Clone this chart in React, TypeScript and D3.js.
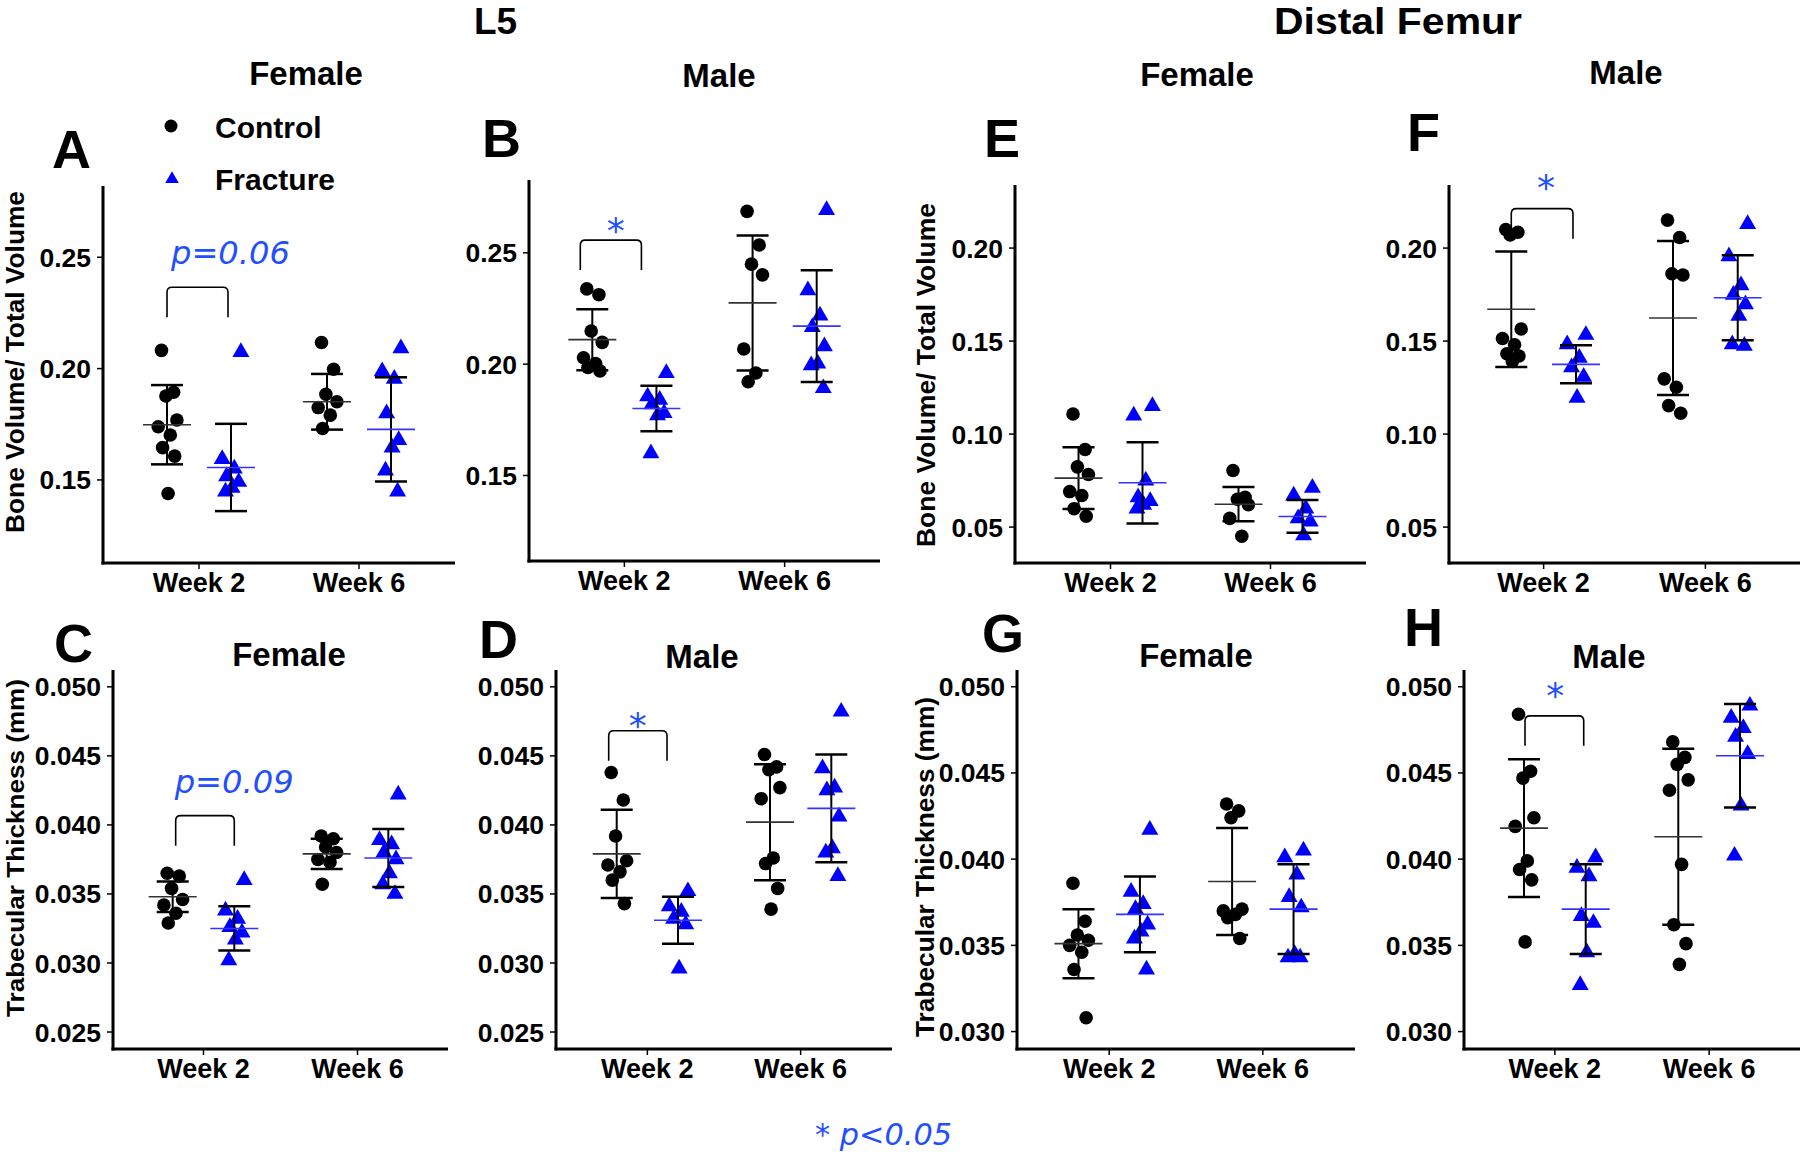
import React from "react";
import * as d3 from "d3";

// ---------- categories ----------
const WEEKS = ["Week 2", "Week 6"];
const GROUPS = ["Control", "Fracture"];

// ---------- tick values ----------
const TICKS_L5_BVTV = [0.15, 0.2, 0.25];
const TICKS_FEMUR_BVTV = [0.05, 0.1, 0.15, 0.2];
const TICKS_L5_TBTH = [0.025, 0.03, 0.035, 0.04, 0.045, 0.05];
const TICKS_FEMUR_TBTH = [0.03, 0.035, 0.04, 0.045, 0.05];

// ---------- A: L5 BV/TV, Female ----------
const A_CONTROL = [
  [0.2082, 0.1894, 0.1877, 0.1769, 0.1739, 0.1702, 0.1645, 0.1607, 0.1439],
  [0.2117, 0.1997, 0.1885, 0.1851, 0.1825, 0.1791, 0.1731],
];
const A_FRACTURE = [
  [0.2074, 0.1594, 0.1551, 0.1516, 0.1491, 0.1465, 0.1448],
  [0.2091, 0.1988, 0.1954, 0.1799, 0.1679, 0.1645, 0.1542, 0.1448],
];
const A_CONTROL_MEAN = [0.1748, 0.1851];
const A_CONTROL_SD = [0.0178, 0.0125];
const A_FRACTURE_MEAN = [0.1556, 0.1727];
const A_FRACTURE_SD = [0.0196, 0.0234];

// ---------- B: L5 BV/TV, Male ----------
const B_CONTROL = [
  [0.2338, 0.2312, 0.2149, 0.2098, 0.2029, 0.2003, 0.1985, 0.1969],
  [0.2686, 0.2535, 0.2449, 0.2401, 0.2068, 0.196, 0.1921],
];
const B_FRACTURE = [
  [0.196, 0.1855, 0.184, 0.182, 0.178, 0.177, 0.16],
  [0.2692, 0.2332, 0.2218, 0.2166, 0.208, 0.2003, 0.1995, 0.1892],
];
const B_CONTROL_MEAN = [0.211, 0.2275];
const B_CONTROL_SD = [0.0137, 0.0303];
const B_FRACTURE_MEAN = [0.1801, 0.2171];
const B_FRACTURE_SD = [0.0102, 0.0251];

// ---------- C: L5 Tb.Th, Female ----------
const C_CONTROL = [
  [0.0365, 0.0363, 0.0354, 0.0346, 0.0342, 0.0336, 0.0329],
  [0.0392, 0.039, 0.0384, 0.038, 0.0375, 0.0373, 0.0357],
];
const C_FRACTURE = [
  [0.036, 0.0338, 0.0332, 0.0326, 0.0322, 0.0317, 0.0302],
  [0.0422, 0.0389, 0.0386, 0.038, 0.0375, 0.0365, 0.0357, 0.035],
];
const C_CONTROL_MEAN = [0.0348, 0.0379];
const C_CONTROL_SD = [0.0011, 0.0011];
const C_FRACTURE_MEAN = [0.0325, 0.0376];
const C_FRACTURE_SD = [0.0016, 0.0021];

// ---------- D: L5 Tb.Th, Male ----------
const D_CONTROL = [
  [0.0438, 0.0418, 0.0392, 0.0374, 0.0371, 0.0366, 0.036, 0.0343],
  [0.0451, 0.0442, 0.044, 0.0427, 0.0419, 0.0376, 0.0372, 0.0354, 0.0339],
];
const D_FRACTURE = [
  [0.0352, 0.0341, 0.0337, 0.0332, 0.0328, 0.0296],
  [0.0482, 0.0441, 0.0427, 0.0425, 0.0406, 0.0383, 0.038, 0.0363],
];
const D_CONTROL_MEAN = [0.0379, 0.0402];
const D_CONTROL_SD = [0.0032, 0.0042];
const D_FRACTURE_MEAN = [0.0331, 0.0412];
const D_FRACTURE_SD = [0.0017, 0.0039];

// ---------- E: Distal Femur BV/TV, Female ----------
const E_CONTROL = [
  [0.1108, 0.0917, 0.0824, 0.0783, 0.0691, 0.067, 0.0599, 0.0558],
  [0.0804, 0.066, 0.065, 0.062, 0.0547, 0.0451],
];
const E_FRACTURE = [
  [0.115, 0.11, 0.075, 0.066, 0.064, 0.062, 0.06],
  [0.0711, 0.067, 0.0599, 0.0547, 0.053, 0.0455],
];
const E_CONTROL_MEAN = [0.0763, 0.0623];
const E_CONTROL_SD = [0.0166, 0.0092];
const E_FRACTURE_MEAN = [0.0738, 0.0557];
const E_FRACTURE_SD = [0.0218, 0.0088];

// ---------- F: Distal Femur BV/TV, Male ----------
const F_CONTROL = [
  [0.21, 0.2085, 0.207, 0.1565, 0.1514, 0.148, 0.1432, 0.142, 0.1391],
  [0.215, 0.2057, 0.1862, 0.1855, 0.1297, 0.1252, 0.1153, 0.1112],
];
const F_FRACTURE = [
  [0.1533, 0.1482, 0.141, 0.1359, 0.1308, 0.1195],
  [0.2129, 0.1955, 0.18, 0.1749, 0.1698, 0.1636, 0.1482, 0.1475],
];
const F_CONTROL_MEAN = [0.1671, 0.1624];
const F_CONTROL_SD = [0.031, 0.0414];
const F_FRACTURE_MEAN = [0.1375, 0.1733];
const F_FRACTURE_SD = [0.0102, 0.0228];

// ---------- G: Distal Femur Tb.Th, Female ----------
const G_CONTROL = [
  [0.0386, 0.0364, 0.0356, 0.0353, 0.035, 0.0346, 0.0336, 0.0308],
  [0.0432, 0.0428, 0.0424, 0.0371, 0.037, 0.0368, 0.0366, 0.0354],
];
const G_FRACTURE = [
  [0.0417, 0.0381, 0.0374, 0.0371, 0.0362, 0.0358, 0.0354, 0.0336],
  [0.0405, 0.0401, 0.0391, 0.0378, 0.0372, 0.0345, 0.0343, 0.0343],
];
const G_CONTROL_MEAN = [0.0351, 0.0387];
const G_CONTROL_SD = [0.002, 0.0031];
const G_FRACTURE_MEAN = [0.0368, 0.0371];
const G_FRACTURE_SD = [0.0022, 0.0026];

// ---------- H: Distal Femur Tb.Th, Male ----------
const H_CONTROL = [
  [0.0484, 0.0451, 0.0447, 0.0424, 0.0419, 0.0399, 0.0394, 0.0388, 0.0352],
  [0.0468, 0.0459, 0.0455, 0.0446, 0.044, 0.0397, 0.0362, 0.0351, 0.0339],
];
const H_FRACTURE = [
  [0.0401, 0.0395, 0.039, 0.0367, 0.0363, 0.0346, 0.0327],
  [0.0489, 0.0482, 0.0476, 0.0471, 0.0461, 0.0431, 0.0402],
];
const H_CONTROL_MEAN = [0.0418, 0.0413];
const H_CONTROL_SD = [0.004, 0.0051];
const H_FRACTURE_MEAN = [0.0371, 0.046];
const H_FRACTURE_SD = [0.0026, 0.003];

// ---------- styling ----------
const BOLD = "'Liberation Sans', Arial, sans-serif";
const ITAL = "'DejaVu Sans', sans-serif";
const BLUE = "#0000ff";
const TEXT_BLUE = "#1f4fff";
const JITTER = [-0.5, 0.6, -0.1, 0.9, -0.8, 0.3, -0.4, 0.7, 0.1];

type Sig = { kind: "p" | "star"; text: string; top: number; dx: number; ldx: number; ldy: number };
type Cfg = {
  letter: string; title: string;
  left: number; right: number; top: number; bottom: number; pad: number;
  domain: [number, number]; ticks: number[]; fmt: string;
  control: number[][]; fracture: number[][];
  cMean: number[]; cSd: number[]; fMean: number[]; fSd: number[];
  titleX: number; titleY: number; letterX: number; letterY: number;
  ylabel?: { text: string; x: number; cy: number; len: number; size: number };
  sig?: Sig;
};

const BVTV = "Bone Volume/ Total Volume";
const TBTH = "Trabecular Thickness (mm)";

const PANELS: Cfg[] = [
  {
    letter: "A", title: "Female", left: 103, right: 455, top: 186, bottom: 563, pad: 0.6,
    domain: [0.1127, 0.282], ticks: TICKS_L5_BVTV, fmt: ".2f",
    control: A_CONTROL, fracture: A_FRACTURE, cMean: A_CONTROL_MEAN, cSd: A_CONTROL_SD, fMean: A_FRACTURE_MEAN, fSd: A_FRACTURE_SD,
    titleX: 306, titleY: 85, letterX: 52, letterY: 168,
    ylabel: { text: BVTV, x: 24, cy: 362, len: 342, size: 25 },
    sig: { kind: "p", text: "p=0.06", top: 0.2365, dx: 0, ldx: 4, ldy: -23 },
  },
  {
    letter: "B", title: "Male", left: 529, right: 880, top: 180, bottom: 561, pad: 0.595,
    domain: [0.1116, 0.2827], ticks: TICKS_L5_BVTV, fmt: ".2f",
    control: B_CONTROL, fracture: B_FRACTURE, cMean: B_CONTROL_MEAN, cSd: B_CONTROL_SD, fMean: B_FRACTURE_MEAN, fSd: B_FRACTURE_SD,
    titleX: 719, titleY: 87, letterX: 482, letterY: 157,
    sig: { kind: "star", text: "*", top: 0.2557, dx: -12, ldx: 5, ldy: -18 },
  },
  {
    letter: "E", title: "Female", left: 1015, right: 1366, top: 185, bottom: 563, pad: 0.597,
    domain: [0.0307, 0.2339], ticks: TICKS_FEMUR_BVTV, fmt: ".2f",
    control: E_CONTROL, fracture: E_FRACTURE, cMean: E_CONTROL_MEAN, cSd: E_CONTROL_SD, fMean: E_FRACTURE_MEAN, fSd: E_FRACTURE_SD,
    titleX: 1197, titleY: 86, letterX: 984, letterY: 157,
    ylabel: { text: BVTV, x: 935, cy: 375, len: 344, size: 26 },
  },
  {
    letter: "F", title: "Male", left: 1449, right: 1800, top: 185, bottom: 563, pad: 0.585,
    domain: [0.0307, 0.2339], ticks: TICKS_FEMUR_BVTV, fmt: ".2f",
    control: F_CONTROL, fracture: F_FRACTURE, cMean: F_CONTROL_MEAN, cSd: F_CONTROL_SD, fMean: F_FRACTURE_MEAN, fSd: F_FRACTURE_SD,
    titleX: 1626, titleY: 84, letterX: 1407, letterY: 151,
    sig: { kind: "star", text: "*", top: 0.2212, dx: 0, ldx: 4, ldy: -30 },
  },
  {
    letter: "C", title: "Female", left: 113, right: 448, top: 670, bottom: 1049, pad: 0.5875,
    domain: [0.02377, 0.05122], ticks: TICKS_L5_TBTH, fmt: ".3f",
    control: C_CONTROL, fracture: C_FRACTURE, cMean: C_CONTROL_MEAN, cSd: C_CONTROL_SD, fMean: C_FRACTURE_MEAN, fSd: C_FRACTURE_SD,
    titleX: 289, titleY: 666, letterX: 54, letterY: 662,
    ylabel: { text: TBTH, x: 24, cy: 848, len: 338, size: 24 },
    sig: { kind: "p", text: "p=0.09", top: 0.04067, dx: 3, ldx: -1, ldy: -23 },
  },
  {
    letter: "D", title: "Male", left: 556, right: 892, top: 670, bottom: 1049, pad: 0.596,
    domain: [0.02377, 0.05122], ticks: TICKS_L5_TBTH, fmt: ".3f",
    control: D_CONTROL, fracture: D_FRACTURE, cMean: D_CONTROL_MEAN, cSd: D_CONTROL_SD, fMean: D_FRACTURE_MEAN, fSd: D_FRACTURE_SD,
    titleX: 702, titleY: 668, letterX: 479, letterY: 658,
    sig: { kind: "star", text: "*", top: 0.04682, dx: -8, ldx: 0, ldy: -14 },
  },
  {
    letter: "G", title: "Female", left: 1017, right: 1355, top: 670, bottom: 1049, pad: 0.6,
    domain: [0.02899, 0.05097], ticks: TICKS_FEMUR_TBTH, fmt: ".3f",
    control: G_CONTROL, fracture: G_FRACTURE, cMean: G_CONTROL_MEAN, cSd: G_CONTROL_SD, fMean: G_FRACTURE_MEAN, fSd: G_FRACTURE_SD,
    titleX: 1196, titleY: 667, letterX: 982, letterY: 652,
    ylabel: { text: TBTH, x: 934, cy: 867, len: 340, size: 25 },
  },
  {
    letter: "H", title: "Male", left: 1464, right: 1800, top: 670, bottom: 1049, pad: 0.589,
    domain: [0.02899, 0.05097], ticks: TICKS_FEMUR_TBTH, fmt: ".3f",
    control: H_CONTROL, fracture: H_FRACTURE, cMean: H_CONTROL_MEAN, cSd: H_CONTROL_SD, fMean: H_FRACTURE_MEAN, fSd: H_FRACTURE_SD,
    titleX: 1609, titleY: 668, letterX: 1404, letterY: 646,
    sig: { kind: "star", text: "*", top: 0.04831, dx: 1, ldx: 1, ldy: -29 },
  },
];

const triPath = d3.symbol().type(d3.symbolTriangle).size(125)() as string;
const legendTri = d3.symbol().type(d3.symbolTriangle).size(80)() as string;

function ErrorBar({ cx, y, mean, sd, meanColor }: { cx: number; y: d3.ScaleLinear<number, number>; mean: number; sd: number; meanColor: string }) {
  const hi = y(mean + sd), lo = y(mean - sd), m = y(mean);
  return (
    <g>
      <line x1={cx} x2={cx} y1={hi} y2={lo} stroke="#000" strokeWidth={2} />
      <line x1={cx - 16} x2={cx + 16} y1={hi} y2={hi} stroke="#000" strokeWidth={2.5} />
      <line x1={cx - 16} x2={cx + 16} y1={lo} y2={lo} stroke="#000" strokeWidth={2.5} />
      <line x1={cx - 24} x2={cx + 24} y1={m} y2={m} stroke={meanColor} strokeWidth={1.6} />
    </g>
  );
}

function Panel({ cfg }: { cfg: Cfg }) {
  const x = d3.scalePoint<string>().domain(WEEKS).range([cfg.left, cfg.right]).padding(cfg.pad);
  const y = d3.scaleLinear().domain(cfg.domain).range([cfg.bottom, cfg.top]);
  const dodge = x.step() * 0.2;
  const gx = (wi: number, gi: number) => (x(WEEKS[wi]) as number) + (gi === 0 ? -dodge : dodge);
  const fmt = d3.format(cfg.fmt);

  let sigEl: React.ReactNode = null;
  if (cfg.sig) {
    const s = cfg.sig;
    const x1 = gx(0, 0) + s.dx;
    const x2 = gx(0, 1) + s.dx - 3;
    const t = y(s.top);
    const b = t + 30;
    const r = 5;
    const path = `M${x1},${b} L${x1},${t + r} Q${x1},${t} ${x1 + r},${t} L${x2 - r},${t} Q${x2},${t} ${x2},${t + r} L${x2},${b}`;
    sigEl = (
      <g>
        <path d={path} fill="none" stroke="#000" strokeWidth={1.6} />
        {s.kind === "p" ? (
          <text x={x1 + s.ldx} y={t + s.ldy} fontFamily={ITAL} fontStyle="italic" fontWeight={300} fontSize={32} fill={TEXT_BLUE}
            textLength={119} lengthAdjust="spacingAndGlyphs">{s.text}</text>
        ) : (
          <text x={(x1 + x2) / 2 + s.ldx} y={t + s.ldy + 21} textAnchor="middle" fontFamily={ITAL} fontSize={36} fill={TEXT_BLUE}>{s.text}</text>
        )}
      </g>
    );
  }

  return (
    <g>
      <text x={cfg.titleX} y={cfg.titleY} textAnchor="middle" fontFamily={BOLD} fontWeight="bold" fontSize={33}>{cfg.title}</text>
      <text x={cfg.letterX} y={cfg.letterY} fontFamily={BOLD} fontWeight="bold" fontSize={54}>{cfg.letter}</text>
      {cfg.ylabel && (
        <text transform={`translate(${cfg.ylabel.x},${cfg.ylabel.cy}) rotate(-90)`} textAnchor="middle" fontFamily={BOLD} fontWeight="bold"
          fontSize={cfg.ylabel.size} textLength={cfg.ylabel.len} lengthAdjust="spacingAndGlyphs">{cfg.ylabel.text}</text>
      )}
      {cfg.ticks.map((t) => (
        <g key={t}>
          <line x1={cfg.left - 6} x2={cfg.left} y1={y(t)} y2={y(t)} stroke="#000" strokeWidth={1.5} />
          <text x={cfg.left - 12} y={y(t)} dy="0.36em" textAnchor="end" fontFamily={BOLD} fontWeight="bold" fontSize={26.5}>{fmt(t)}</text>
        </g>
      ))}
      {WEEKS.map((w) => (
        <g key={w}>
          <line x1={x(w)} x2={x(w)} y1={cfg.bottom} y2={cfg.bottom + 6} stroke="#000" strokeWidth={1.5} />
          <text x={x(w)} y={cfg.bottom + 29} textAnchor="middle" fontFamily={BOLD} fontWeight="bold" fontSize={27}>{w}</text>
        </g>
      ))}
      <line x1={cfg.left} x2={cfg.left} y1={cfg.top} y2={cfg.bottom + 1.5} stroke="#000" strokeWidth={3} />
      <line x1={cfg.left - 1.5} x2={cfg.right} y1={cfg.bottom} y2={cfg.bottom} stroke="#000" strokeWidth={3} />
      {sigEl}
      {WEEKS.map((w, wi) => (
        <g key={w}>
          {cfg.control[wi].map((v, i) => (
            <circle key={"c" + i} cx={gx(wi, 0) + JITTER[i % JITTER.length] * 11} cy={y(v)} r={6.8} fill="#000" />
          ))}
          {cfg.fracture[wi].map((v, i) => (
            <path key={"f" + i} d={triPath} transform={`translate(${gx(wi, 1) + JITTER[(i + 3) % JITTER.length] * 11},${y(v)})`} fill={BLUE} />
          ))}
        </g>
      ))}
      {WEEKS.map((w, wi) => (
        <g key={"e" + w}>
          <ErrorBar cx={gx(wi, 0)} y={y} mean={cfg.cMean[wi]} sd={cfg.cSd[wi]} meanColor="#333" />
          <ErrorBar cx={gx(wi, 1)} y={y} mean={cfg.fMean[wi]} sd={cfg.fSd[wi]} meanColor="#3333ff" />
        </g>
      ))}
    </g>
  );
}

export default function App() {
  return (
    <svg width={1800} height={1156} viewBox="0 0 1800 1156" style={{ position: "absolute", left: 0, top: 0, background: "#fff" }}>
      <rect width={1800} height={1156} fill="#fff" />
      <text x={474} y={34} fontFamily={BOLD} fontWeight="bold" fontSize={37}>L5</text>
      <text x={1274} y={34} fontFamily={BOLD} fontWeight="bold" fontSize={37} textLength={248} lengthAdjust="spacingAndGlyphs">Distal Femur</text>
      <circle cx={171} cy={126} r={6.5} fill="#000" />
      <text x={215} y={138} fontFamily={BOLD} fontWeight="bold" fontSize={30}>{GROUPS[0]}</text>
      <path d={legendTri} transform="translate(172,179)" fill={BLUE} />
      <text x={215} y={190} fontFamily={BOLD} fontWeight="bold" fontSize={30}>{GROUPS[1]}</text>
      {PANELS.map((p) => (
        <Panel key={p.letter} cfg={p} />
      ))}
      <text x={815} y={1145} fontFamily={ITAL} fontStyle="italic" fontWeight={300} fontSize={31} fill={TEXT_BLUE}
        textLength={137} lengthAdjust="spacingAndGlyphs">* p&lt;0.05</text>
    </svg>
  );
}
